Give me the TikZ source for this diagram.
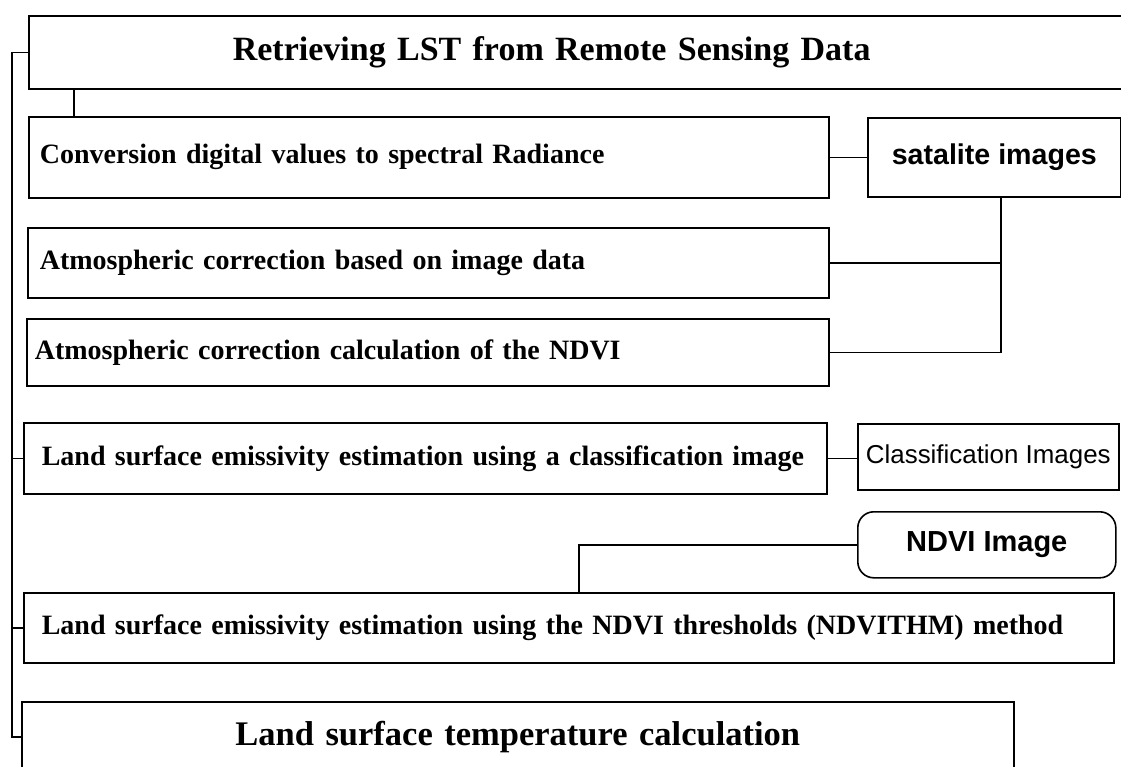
\documentclass[tikz,border=0pt]{standalone}
\usepackage{fontspec}
\setmainfont{Liberation Serif}
\newfontfamily\arialfont{Liberation Sans}
\usetikzlibrary{positioning}

\begin{document}
\begin{tikzpicture}[x=1pt,y=-1pt,line width=1.6pt,
  procbox/.style={draw,anchor=north west,inner ysep=0pt,align=left,font=\fontsize{28}{32}\selectfont\bfseries},
  databox/.style={draw,anchor=north west,inner sep=0pt,align=center},
  bigtext/.style={font=\fontsize{34}{38}\selectfont\bfseries}]
\useasboundingbox (0,0) rectangle (1121,766);
\fill[white] (0,0) rectangle (1121,766);

\node[procbox,bigtext,minimum height=73pt,inner xsep=204pt,text width=700pt] (top) at (28,15) {Retrieving LST from Remote Sensing Data};
\node[procbox,minimum height=81pt,inner xsep=11pt,text width=778pt] (conv) at (28,116) {Conversion digital values to spectral Radiance};
\node[procbox,minimum height=70pt,inner xsep=12pt,text width=777pt] (atmimg) at (27,227) {Atmospheric correction based on image data};
\node[procbox,minimum height=67pt,inner xsep=8pt,text width=786pt] (atmndvi) at (26,318) {Atmospheric correction calculation of the NDVI};
\node[procbox,minimum height=71pt,inner xsep=18pt,text width=767pt] (lseclass) at (23,422) {\mbox{Land surface emissivity estimation using a classification image}};
\node[procbox,minimum height=70pt,inner xsep=18pt,text width=1054pt] (lsendvi) at (23,592) {\mbox{Land surface emissivity estimation using the NDVI thresholds (NDVITHM) method}};
\node[procbox,minimum height=70pt,inner xsep=10pt,text width=972pt,align=center,font=\fontsize{34.5}{38}\selectfont\bfseries] (lst) at (21,701) {Land surface temperature calculation};

\node[databox,minimum width=253pt,minimum height=79pt,font=\arialfont\fontsize{28.6}{32}\selectfont\bfseries] (sat) at (867,117) {satalite images};
\node[databox,minimum width=261pt,minimum height=66pt,font=\arialfont\fontsize{25.9}{30}\selectfont] (cls) at (857,423) {Classification Images};
\node[databox,minimum width=258pt,minimum height=66pt,rounded corners=16pt,font=\arialfont\fontsize{29}{32}\selectfont\bfseries] (ndvi) at (857,511) {NDVI Image};

\draw ([xshift=46pt]conv.north west) -- ([xshift=46pt]conv.north west |- top.south);
\draw (conv.east) -- (sat.west);
\draw ([xshift=6.5pt]sat.south) |- (atmndvi.east);
\draw (atmimg.east) -- ([xshift=6.5pt]sat.south |- atmimg.east);
\draw (lseclass.east) -- (lseclass.east -| cls.west);
\draw (ndvi.west) -| ([xshift=10pt]lsendvi.north);
\draw (top.west) -- ++(-16,0) coordinate (bus) |- (lst.west);
\draw (lseclass.west) -- (bus |- lseclass.west);
\draw (lsendvi.west) -- (bus |- lsendvi.west);
\end{tikzpicture}
\end{document}
